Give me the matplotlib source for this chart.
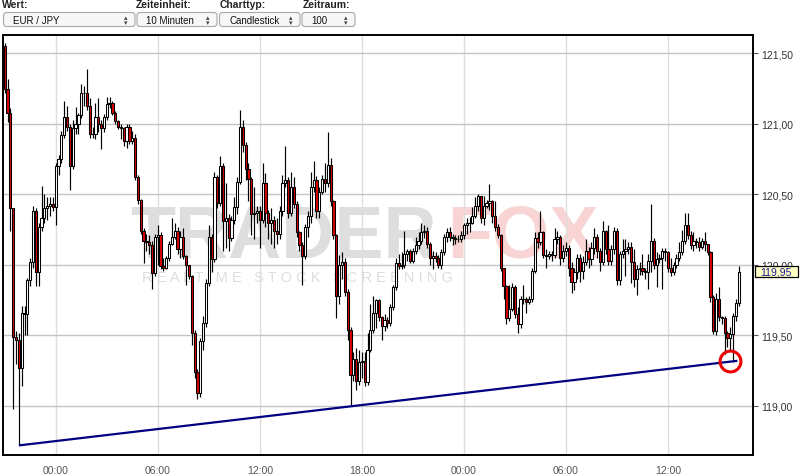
import numpy as np
import pandas as pd
import matplotlib
matplotlib.use("Agg")
import matplotlib.pyplot as plt
from matplotlib.patches import FancyBboxPatch, Rectangle

plt.rcParams['font.family'] = ['Liberation Sans', 'DejaVu Sans']

# EUR/JPY, 10-minute candles, first candle 21:00
start_time = '2013-06-09 21:00'
open0 = 121.55

close = [
    121.25, 121.08, 120.40, 119.49, 119.47, 119.27, 119.66, 119.65, 119.89, 120.02,
    120.38, 119.95, 120.27, 120.33, 120.40, 120.42, 120.43, 120.41, 120.70, 120.75,
    120.92, 121.05, 120.98, 120.70, 120.97, 121.00, 121.06, 121.22, 121.22, 121.13,
    120.93, 120.93, 121.05, 121.00, 120.97, 121.05, 121.14, 121.15, 121.08, 121.02,
    120.98, 120.97, 120.88, 120.98, 120.88, 120.90, 120.62, 120.46, 120.24, 120.17,
    120.16, 120.14, 119.94, 120.20, 120.21, 119.99, 119.98, 120.05, 120.15, 120.20,
    120.24, 120.11, 120.20, 120.06, 120.00, 119.92, 119.52, 119.24, 119.09, 119.46,
    119.59, 119.87, 120.20, 120.04, 120.62, 120.44, 120.70, 120.31, 120.33, 120.19,
    120.32, 120.41, 120.59, 120.98, 120.85, 120.68, 120.61, 120.36, 120.37, 120.38,
    120.32, 120.58, 120.37, 120.30, 120.32, 120.24, 120.22, 120.38, 120.58, 120.60,
    120.37, 120.55, 120.43, 120.23, 120.14, 120.06, 120.27, 120.35, 120.55, 120.60,
    120.38, 120.52, 120.61, 120.58, 120.71, 120.45, 120.21, 119.78, 120.00, 120.02,
    119.81, 119.54, 119.22, 119.33, 119.18, 119.31, 119.32, 119.17, 119.40, 119.54,
    119.66, 119.75, 119.63, 119.57, 119.61, 119.59, 119.70, 119.84, 120.01, 119.99,
    120.00, 120.08, 120.10, 120.03, 120.10, 120.14, 120.17, 120.23, 120.24, 120.15,
    120.05, 120.06, 120.05, 120.00, 120.09, 120.20, 120.23, 120.20, 120.19, 120.18,
    120.18, 120.21, 120.28, 120.30, 120.30, 120.35, 120.42, 120.49, 120.33, 120.42,
    120.44, 120.45, 120.35, 120.27, 120.21, 119.98, 119.85, 119.62, 119.69, 119.84,
    119.65, 119.58, 119.76, 119.76, 119.74, 119.76, 119.96, 120.19, 120.16, 120.23,
    120.07, 120.06, 120.08, 120.07, 120.18, 120.20, 120.05, 120.10, 120.12, 119.98,
    119.88, 119.95, 120.05, 119.96, 120.02, 120.10, 120.04, 120.12, 120.20, 120.10,
    120.02, 120.24, 120.11, 120.03, 120.11, 120.24, 119.89, 120.08, 120.10, 120.11,
    120.13, 120.02, 119.90, 119.97, 119.98, 119.96, 119.95, 120.03, 120.17, 120.00,
    120.04, 120.05, 120.10, 120.09, 119.98, 119.95, 120.00, 120.05, 120.09, 120.17,
    120.28, 120.21, 120.14, 120.17, 120.16, 120.13, 120.17, 120.15, 120.09, 119.77,
    119.53, 119.76, 119.63, 119.62, 119.52, 119.48, 119.51, 119.64, 119.73, 119.95,
]

high = [
    121.57, 121.32, 121.11, 120.38, 119.53, 119.52, 119.71, 119.71, 119.91, 120.05,
    120.42, 120.40, 120.30, 120.56, 120.50, 120.48, 120.48, 120.48, 120.72, 120.78,
    120.95, 121.16, 121.13, 121.00, 121.03, 121.12, 121.08, 121.28, 121.27, 121.39,
    121.18, 120.98, 121.15, 121.18, 121.03, 121.07, 121.19, 121.19, 121.16, 121.09,
    121.03, 121.00, 120.98, 121.00, 121.00, 120.95, 120.93, 120.64, 120.47, 120.26,
    120.22, 120.21, 120.17, 120.22, 120.28, 120.23, 120.05, 120.06, 120.17, 120.33,
    120.30, 120.27, 120.24, 120.26, 120.07, 120.00, 119.93, 119.54, 119.26, 119.48,
    119.64, 119.90, 120.28, 120.22, 120.66, 120.64, 120.77, 120.72, 120.58, 120.36,
    120.35, 120.48, 120.62, 121.10, 121.03, 120.87, 120.72, 120.62, 120.55, 120.42,
    120.42, 120.72, 120.65, 120.39, 120.40, 120.35, 120.33, 120.42, 120.64, 120.84,
    120.62, 120.66, 120.62, 120.45, 120.24, 120.16, 120.29, 120.38, 120.66, 120.74,
    120.63, 120.55, 120.64, 120.72, 120.94, 120.76, 120.46, 120.22, 120.07, 120.09,
    120.05, 119.83, 119.56, 119.38, 119.41, 119.40, 119.38, 119.38, 119.52, 119.72,
    119.78, 119.76, 119.76, 119.64, 119.65, 119.63, 119.72, 119.86, 120.05, 120.08,
    120.09, 120.24, 120.11, 120.11, 120.12, 120.20, 120.23, 120.30, 120.28, 120.27,
    120.16, 120.10, 120.09, 120.07, 120.11, 120.22, 120.26, 120.27, 120.22, 120.21,
    120.21, 120.24, 120.30, 120.33, 120.34, 120.41, 120.48, 120.50, 120.46, 120.49,
    120.46, 120.57, 120.46, 120.45, 120.29, 120.22, 119.98, 119.86, 119.86, 119.87,
    119.86, 119.70, 119.78, 119.86, 119.77, 119.78, 119.98, 120.23, 120.23, 120.38,
    120.24, 120.11, 120.10, 120.10, 120.26, 120.24, 120.21, 120.14, 120.16, 120.14,
    120.02, 119.98, 120.08, 120.08, 120.06, 120.18, 120.13, 120.16, 120.26, 120.22,
    120.12, 120.31, 120.25, 120.28, 120.14, 120.27, 120.26, 120.10, 120.18, 120.18,
    120.16, 120.16, 120.11, 120.00, 120.02, 120.08, 119.98, 120.08, 120.43, 120.19,
    120.09, 120.08, 120.12, 120.12, 120.10, 120.05, 120.02, 120.08, 120.16, 120.25,
    120.37, 120.37, 120.24, 120.23, 120.19, 120.20, 120.19, 120.23, 120.14, 120.10,
    119.79, 119.80, 119.84, 119.64, 119.64, 119.53, 119.56, 119.66, 119.76, 119.99,
]

low = [
    121.22, 121.01, 120.24, 118.98, 119.30, 118.72, 119.14, 119.50, 119.50, 119.85,
    119.98, 119.85, 119.85, 120.24, 120.30, 120.32, 120.35, 120.38, 120.28, 120.64,
    120.72, 120.90, 120.95, 120.53, 120.68, 120.93, 120.93, 121.04, 121.13, 121.10,
    120.90, 120.90, 120.89, 120.94, 120.82, 120.94, 121.03, 121.11, 121.06, 121.00,
    120.96, 120.89, 120.84, 120.83, 120.86, 120.86, 120.60, 120.43, 120.22, 120.01,
    120.10, 120.08, 119.83, 119.92, 120.00, 119.97, 119.96, 119.97, 120.03, 120.14,
    120.18, 120.08, 120.05, 120.04, 119.86, 119.90, 119.43, 119.20, 119.05, 119.06,
    119.40, 119.56, 119.85, 119.95, 120.02, 120.40, 120.42, 120.10, 120.12, 120.10,
    120.17, 120.29, 120.36, 120.57, 120.80, 120.60, 120.45, 120.21, 120.18, 120.30,
    120.12, 120.30, 120.27, 120.18, 120.15, 120.12, 120.15, 120.18, 120.35, 120.55,
    120.33, 120.35, 120.40, 120.20, 120.10, 119.86, 120.04, 120.20, 120.30, 120.52,
    120.33, 120.33, 120.50, 120.52, 120.55, 120.42, 120.18, 119.62, 119.72, 119.90,
    119.78, 119.47, 119.01, 119.18, 119.11, 119.15, 119.20, 119.14, 119.15, 119.38,
    119.52, 119.55, 119.60, 119.47, 119.53, 119.55, 119.57, 119.68, 119.82, 119.97,
    119.97, 119.98, 120.03, 120.01, 120.01, 120.08, 120.11, 120.15, 120.19, 120.12,
    120.00, 119.97, 120.02, 119.98, 119.97, 120.07, 120.16, 120.17, 120.14, 120.15,
    120.16, 120.16, 120.18, 120.22, 120.23, 120.29, 120.33, 120.38, 120.30, 120.28,
    120.40, 120.39, 120.30, 120.24, 120.19, 119.96, 119.76, 119.58, 119.60, 119.67,
    119.62, 119.52, 119.55, 119.72, 119.66, 119.72, 119.74, 119.94, 120.12, 120.14,
    120.05, 119.98, 120.04, 120.03, 120.05, 120.15, 120.00, 120.02, 120.06, 119.92,
    119.80, 119.82, 119.90, 119.88, 119.90, 120.00, 119.98, 120.00, 120.08, 120.05,
    119.96, 120.00, 120.08, 120.00, 120.00, 120.08, 119.86, 119.86, 120.05, 119.92,
    120.08, 119.87, 119.84, 119.79, 119.93, 119.93, 119.90, 119.83, 119.95, 119.97,
    119.84, 120.01, 119.83, 120.03, 119.95, 119.92, 119.93, 119.98, 120.03, 120.07,
    120.15, 120.18, 120.11, 120.10, 120.12, 120.10, 120.11, 120.10, 120.07, 119.74,
    119.51, 119.50, 119.60, 119.58, 119.37, 119.42, 119.39, 119.31, 119.60, 119.71,
]

# support line drawn on the chart (candle index, price)
trend_x = [5, 258.5]
trend_y = [118.72, 119.32]
circle_x, circle_y = 256, 119.32

yticks = [119.0, 119.5, 120.0, 120.5, 121.0, 121.5]

c = np.array(close)
o = np.r_[open0, c[:-1]]
hi = np.maximum(np.array(high), np.maximum(o, c))
lo = np.minimum(np.array(low), np.minimum(o, c))
x = np.arange(len(c))
times = pd.date_range(start_time, periods=len(c), freq='10min')

fig = plt.figure(figsize=(8.11, 4.77), dpi=100)
fig.patch.set_facecolor('white')

# page-like overlay in pixel coordinates (header + watermark)
bg = fig.add_axes([0, 0, 1, 1], zorder=0)
bg.set_xlim(0, 811)
bg.set_ylim(477, 0)
bg.axis('off')

for lx, txt in [(2, 'Wert:'), (136, 'Zeiteinheit:'), (220, 'Charttyp:'), (303, 'Zeitraum:')]:
    bg.text(lx, 7.5, txt, fontsize=7.5, fontweight='bold', va='baseline', color='#222222')

boxes = [(3.5, 135, 'EUR / JPY'), (137, 217, '10 Minuten'),
         (219.5, 300, 'Candlestick'), (302, 355, '100')]
for x0, x1, txt in boxes:
    bg.add_patch(FancyBboxPatch((x0, 13.5), x1 - x0, 14, boxstyle='round,pad=0,rounding_size=3',
                                fc='#f7f7f7', ec='#a8a8a8', lw=0.8))
    bg.text(x0 + 9.5, 21, txt, fontsize=7, va='center', color='#111111')
    bg.text(x1 - 9, 18.3, '▴', fontsize=5, ha='center', va='center', family='DejaVu Sans', color='#444444')
    bg.text(x1 - 9, 23.0, '▾', fontsize=5, ha='center', va='center', family='DejaVu Sans', color='#444444')

# watermark
bg.text(130, 258, 'TRADER', fontsize=53, fontweight='bold', color='#dedede', va='baseline')
bg.text(447, 258, 'FOX', fontsize=53, fontweight='bold', color='#f8d4d4', va='baseline')
bg.text(298, 278, 'R E A L T I M E   S T O C K   S C R E E N I N G', fontsize=10.5,
        color='#dddddd', ha='center', va='center')

ax = fig.add_axes([3 / 811, 21 / 477, 750 / 811, 420 / 477], zorder=1)
ax.patch.set_alpha(0)

ax.vlines(x, lo, hi, color='black', lw=0.85, zorder=2)
ax.bar(x, np.abs(c - o), bottom=np.minimum(o, c), width=0.78,
       color=np.where(c >= o, 'white', '#d80000'), edgecolor='black', linewidth=0.75, zorder=3)

ax.plot(trend_x, trend_y, color='#000080', lw=1.6, zorder=4, solid_capstyle='butt')
ax.plot(circle_x, circle_y, 'o', mfc='none', mec='#ee0000', ms=15, mew=2.2, zorder=5)

ax.set_xlim(-0.6, 264.0)
ax.set_ylim(118.652, 121.63)

tick_idx = [i for i, t in enumerate(times) if t.minute == 0 and t.hour % 6 == 0]
ax.set_xticks(tick_idx)
ax.set_xticklabels([times[i].strftime('%H:%M') for i in tick_idx])
ax.set_yticks(yticks)
ax.set_yticklabels([f'{v:.2f}'.replace('.', ',') for v in yticks])

ax.yaxis.tick_right()
ax.tick_params(axis='y', length=3.4, width=0.8, color='#555555', pad=2.5,
               labelsize=7.5, labelcolor='#333333')
ax.tick_params(axis='x', length=0, pad=7, labelsize=7.5, labelcolor='#555555')

ax.grid(axis='y', color='#c4c4c4', lw=1.0, zorder=1)
ax.grid(axis='x', color='#dddddd', lw=1.0, zorder=1)
ax.set_axisbelow(True)
for s in ax.spines.values():
    s.set_linewidth(1.4)
    s.set_color('black')

# last price label
last = c[-1]
ax.add_patch(Rectangle((1.002, last - 0.039), 0.058, 0.078, transform=ax.get_yaxis_transform(),
                       fc='#ffffc4', ec='black', lw=0.9, clip_on=False, zorder=6))
ax.text(1.031, last, f'{last:.2f}'.replace('.', ','), transform=ax.get_yaxis_transform(),
        ha='center', va='center', fontsize=7.5, color='#1c1c9c', zorder=7, clip_on=False)

fig.savefig('out.png', dpi=100)
